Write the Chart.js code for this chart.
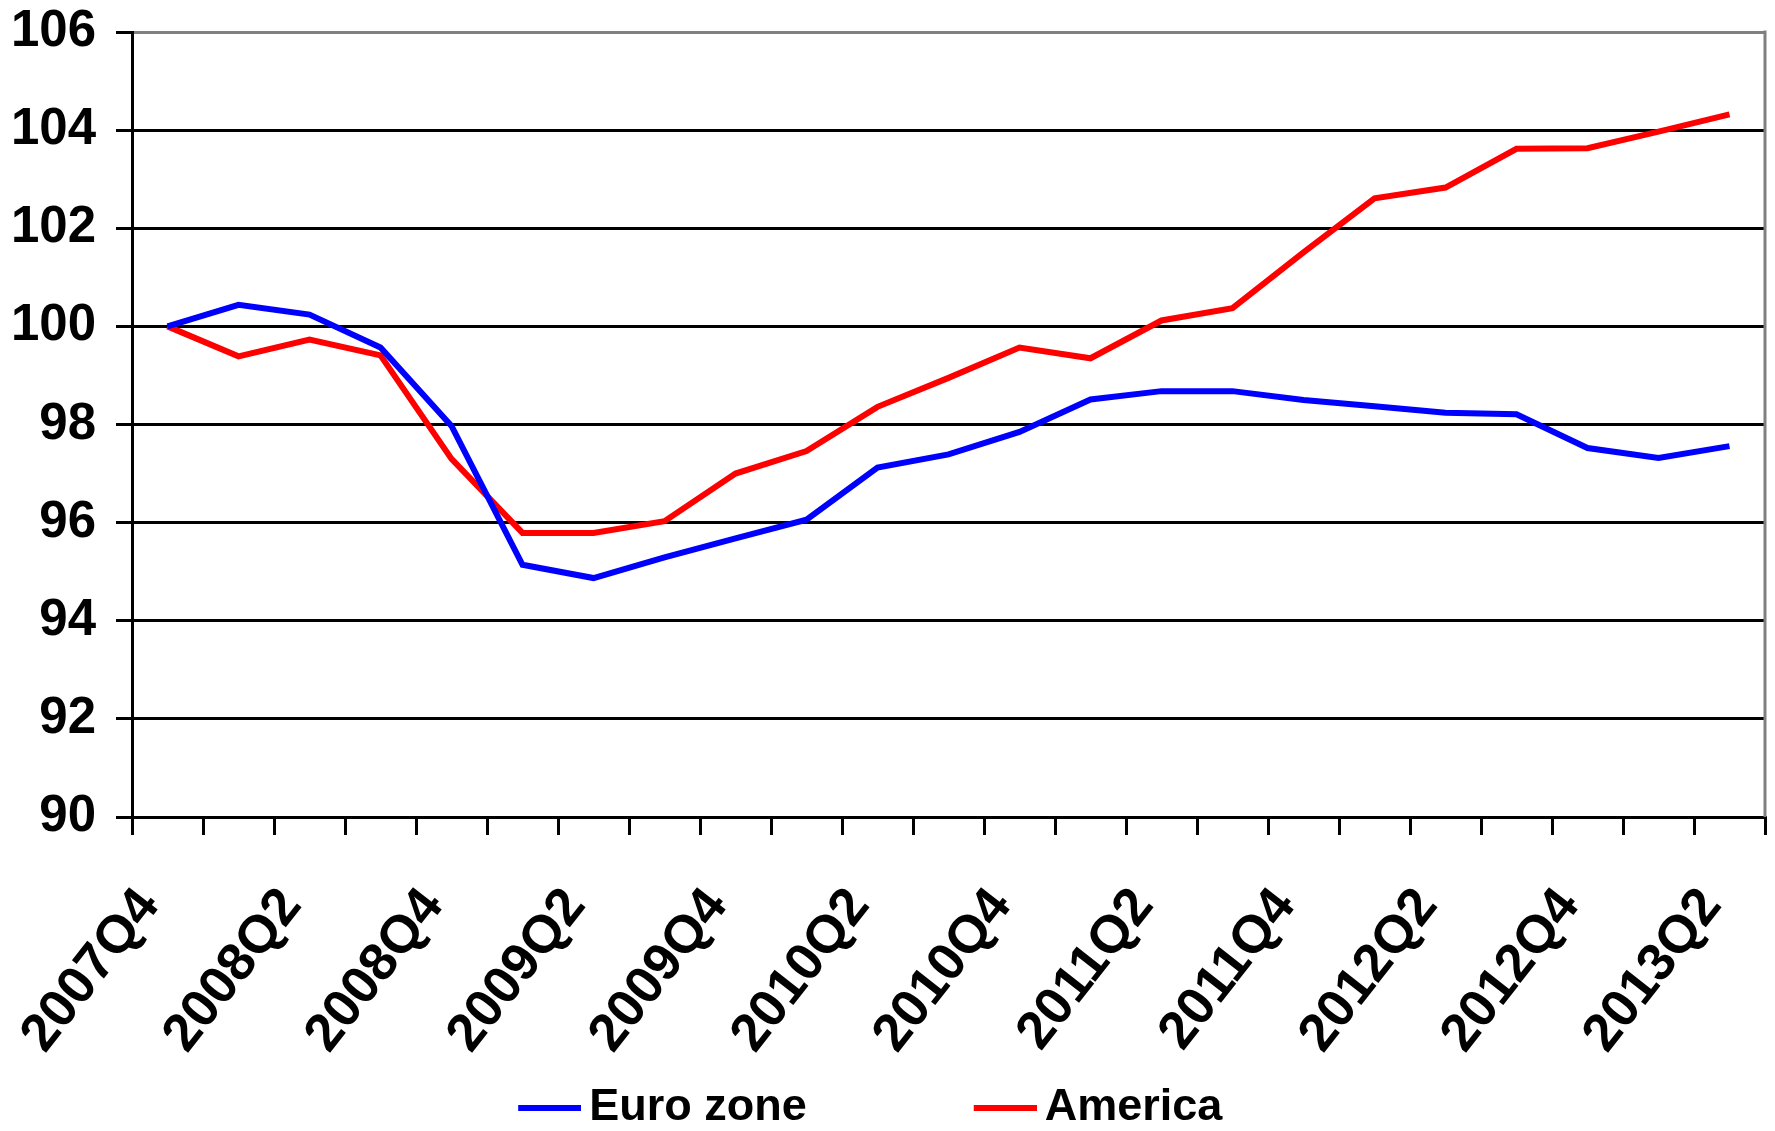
<!DOCTYPE html>
<html>
<head>
<meta charset="utf-8">
<script src="https://cdn.jsdelivr.net/npm/chart.js@4.4.0/dist/chart.umd.min.js"></script>
<style>
  html, body { margin: 0; padding: 0; background: #fff; }
  #wrap { width: 1775px; height: 1131px; }
</style>
</head>
<body>
<div id="wrap"><canvas id="chart" width="1775" height="1131"></canvas></div>
<script>
// 四半期ラベル
const quarters = [
  "2007Q4",
  "2008Q1", "2008Q2", "2008Q3", "2008Q4",
  "2009Q1", "2009Q2", "2009Q3", "2009Q4",
  "2010Q1", "2010Q2", "2010Q3", "2010Q4",
  "2011Q1", "2011Q2", "2011Q3", "2011Q4",
  "2012Q1", "2012Q2", "2012Q3", "2012Q4",
  "2013Q1", "2013Q2",
];

// 系列データ（2007Q4 = 100）
const euroZone = [
  100, 100.44, 100.24, 99.57, 97.97, 95.14, 94.87, 95.29, 95.68, 96.06,
  97.12, 97.39, 97.85, 98.51, 98.68, 98.68, 98.5, 98.37, 98.24, 98.21,
  97.52, 97.32, 97.56,
];
const america = [
  100, 99.39, 99.73, 99.41, 97.3, 95.79, 95.79, 96.03, 97.0, 97.46,
  98.36, 98.95, 99.57, 99.35, 100.12, 100.37, 101.51, 102.61, 102.83, 103.62,
  103.63, 103.97, 104.32,
];

// y軸
const yMin = 90;
const yMax = 106;
const yStep = 2;

const fontFamily = "'Liberation Sans', Arial, sans-serif";

// 右側の灰色の枠線
const rightFrame = {
  id: "rightFrame",
  afterDraw(chart) {
    const { ctx, chartArea } = chart;
    ctx.save();
    ctx.strokeStyle = "#808080";
    ctx.lineWidth = 3;
    ctx.beginPath();
    ctx.moveTo(chartArea.right, chartArea.top - 1.5);
    ctx.lineTo(chartArea.right, chartArea.bottom);
    ctx.stroke();
    ctx.restore();
  },
};

// 凡例の線（右寄せして文字との間隔を詰める）
function legendLine(color) {
  const c = document.createElement("canvas");
  c.width = 78;
  c.height = 6;
  const g = c.getContext("2d");
  g.fillStyle = color;
  g.fillRect(15, 0, 63, 6);
  return c;
}

const chartCanvas = document.getElementById("chart");
new Chart(chartCanvas, {
  type: "line",
  data: {
    labels: quarters,
    datasets: [
      {
        label: "Euro zone",
        data: euroZone,
        borderColor: "#0000ff",
        backgroundColor: "#0000ff",
        borderWidth: 6,
        pointRadius: 0,
        tension: 0,
      },
      {
        label: "America",
        data: america,
        borderColor: "#ff0000",
        backgroundColor: "#ff0000",
        borderWidth: 6,
        pointRadius: 0,
        tension: 0,
      },
    ],
  },
  options: {
    responsive: false,
    animation: false,
    devicePixelRatio: 1,
    layout: { padding: { top: 32, right: 10, left: 0, bottom: -9 } },
    scales: {
      x: {
        type: "category",
        offset: true,
        grid: {
          offset: true,
          drawOnChartArea: false,
          drawTicks: true,
          tickLength: 18,
          color: "#000",
          lineWidth: 3,
        },
        border: { color: "#000", width: 3 },
        ticks: {
          autoSkip: false,
          minRotation: 52,
          maxRotation: 52,
          padding: 42,
          labelOffset: -18,
          color: "#000",
          font: { family: fontFamily, size: 53, weight: "bold" },
          callback: function (value, index) {
            return index % 2 === 0 ? this.getLabelForValue(value) : "";
          },
        },
        afterFit: (scale) => {
          scale.height = 264;
          scale.paddingLeft = 0;
          scale.paddingRight = 0;
        },
      },
      y: {
        min: yMin,
        max: yMax,
        grid: {
          color: (c) => (c.tick && c.tick.value === yMax ? "#808080" : "#000"),
          tickColor: "#000",
          lineWidth: 3,
          tickLength: 16,
        },
        border: { color: "#000", width: 3 },
        ticks: {
          stepSize: yStep,
          padding: 20,
          color: "#000",
          font: { family: fontFamily, size: 51, weight: "bold" },
        },
        afterFit: (scale) => {
          scale.width = 132;
          scale.paddingTop = 0;
          scale.paddingBottom = 0;
        },
      },
    },
    plugins: {
      tooltip: { enabled: false },
      legend: {
        position: "bottom",
        labels: {
          color: "#000",
          usePointStyle: true,
          pointStyleWidth: 49,
          boxHeight: 6,
          padding: 4,
          font: { family: fontFamily, size: 45, weight: "bold" },
          generateLabels: (chart) => {
            const items = Chart.defaults.plugins.legend.labels.generateLabels(chart);
            items.forEach((item) => {
              item.lineWidth = 0;
              item.pointStyle = legendLine(item.fillStyle);
            });
            // 凡例項目の間隔
            items[0].text = items[0].text + " ".repeat(13);
            items[1].text = items[1].text + "  ";
            return items;
          },
        },
      },
    },
  },
  plugins: [rightFrame],
});
</script>
</body>
</html>
